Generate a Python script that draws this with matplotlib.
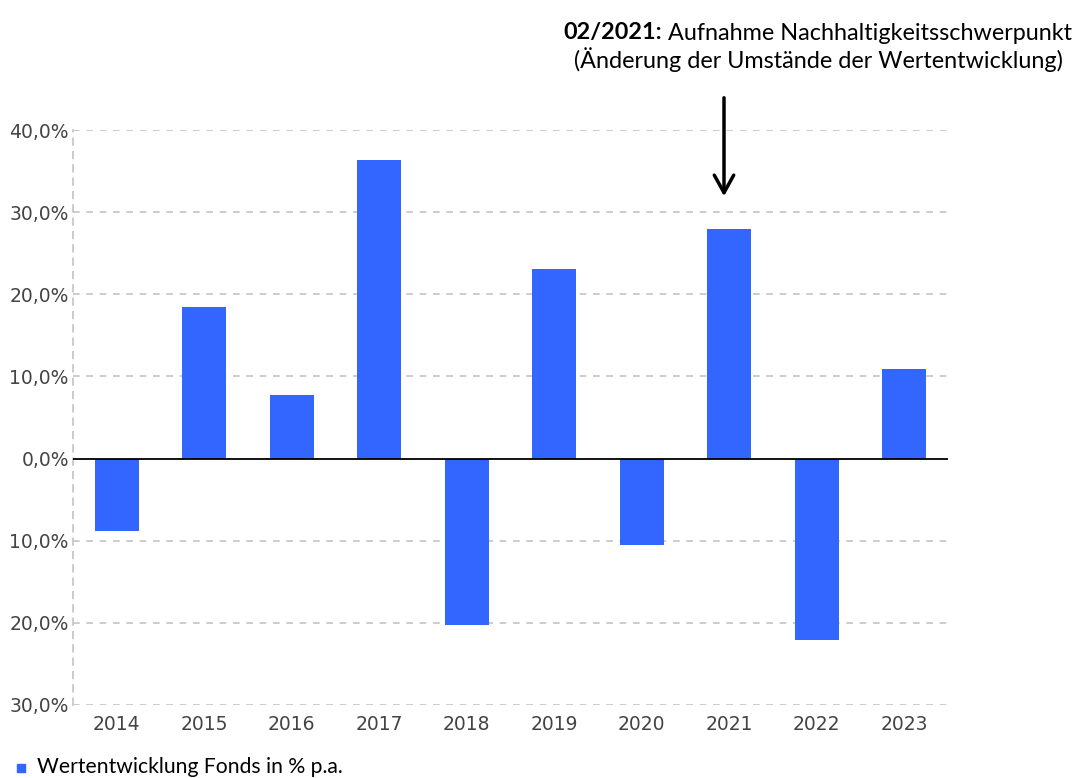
import matplotlib
matplotlib.use("Agg")
import matplotlib.pyplot as plt
from matplotlib.patches import Rectangle, FancyArrowPatch

years = ["2014", "2015", "2016", "2017", "2018", "2019", "2020", "2021", "2022", "2023"]
values = [-8.8, 18.5, 7.8, 36.4, -20.2, 23.1, -10.5, 28.0, -22.1, 10.9]
yticks = [-30, -20, -10, 0, 10, 20, 30, 40]
ytick_labels = ["30,0%", "20,0%", "10,0%", "0,0%", "10,0%", "20,0%", "30,0%", "40,0%"]
legend_label = "Wertentwicklung Fonds in % p.a."
note_bold = "02/2021:"
note_line1 = " Aufnahme Nachhaltigkeitsschwerpunkt"
note_line2 = "(Änderung der Umstände der Wertentwicklung)"

W, H = 1079, 778
fig = plt.figure(figsize=(W / 100, H / 100), dpi=100)
ax = fig.add_axes([73 / W, 1 - 705 / H, (948 - 73) / W, (705 - 130) / H])

bar_color = "#3366ff"
x = list(range(len(years)))
ax.bar(x, values, width=0.5, color=bar_color, zorder=3)

ax.set_xlim(-0.5, len(years) - 0.5)
ax.set_ylim(-30, 40)
ax.set_yticks(yticks)
ax.set_yticklabels(ytick_labels, family="DejaVu Sans")
ax.set_xticks(x)
ax.set_xticklabels(years, family="DejaVu Sans")

for y in yticks:
    if y != 0:
        ax.axhline(y, color="#c4c4c4", lw=1.2, ls=(0, (4, 4)), zorder=1)
ax.axhline(0, color="black", lw=1.3, zorder=4)

for s in ["top", "right", "bottom"]:
    ax.spines[s].set_visible(False)
ax.spines["left"].set_color("#c4c4c4")
ax.spines["left"].set_linestyle((0, (4, 4)))
ax.spines["left"].set_linewidth(1.2)

ax.tick_params(axis="both", length=0, colors="#444444", labelsize=13.5)
ax.tick_params(axis="y", pad=3)
ax.tick_params(axis="x", pad=7)

# annotation
fs = 16.8
t1 = fig.text(1072 / W, 1 - 33 / H, note_line1, ha="right", va="center",
              fontsize=fs, family="Lato", color="black")
fig.canvas.draw()
bb = t1.get_window_extent()
fig.text(bb.x0 / W, 1 - 33 / H, note_bold, ha="right", va="center",
         fontsize=fs, family="Lato", fontweight="bold", color="black")
fig.text(818 / W, 1 - 60 / H, note_line2, ha="center", va="center",
         fontsize=fs, family="Lato", color="black")
fig.add_artist(FancyArrowPatch(
    (724 / W, 1 - 95 / H), (724 / W, 1 - 199 / H), transform=fig.transFigure,
    arrowstyle="->,head_length=0.9,head_width=0.5",
    color="black", lw=2.5, mutation_scale=14))

# legend
fig.add_artist(Rectangle((17 / W, 1 - 772 / H), 8 / W, 8 / H,
                         transform=fig.transFigure, color=bar_color))
fig.text(37 / W, 1 - 767 / H, legend_label, ha="left", va="center",
         fontsize=15.2, family="Lato", color="black")

fig.savefig("out.png", dpi=100)
